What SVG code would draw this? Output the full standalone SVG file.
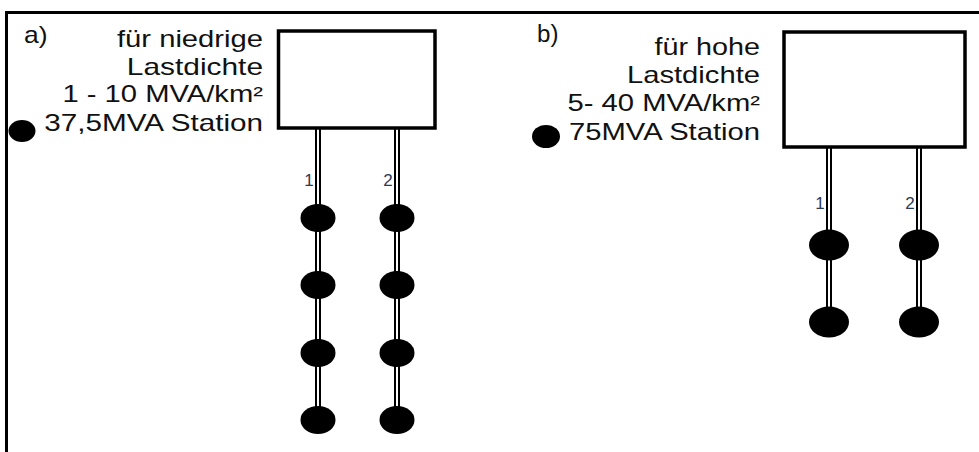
<svg xmlns="http://www.w3.org/2000/svg" width="979" height="452" viewBox="0 0 979 452">
<style>
.t{font-family:"Liberation Sans",Arial,sans-serif;font-size:23px;fill:#111}
.r{text-anchor:end}
.n{font-family:"Liberation Sans",Arial,sans-serif;font-size:17px;fill:#2b3a55;text-anchor:middle}
.box{fill:#fff;stroke:#000;stroke-width:3.5}
.wo{stroke:#000;stroke-width:6;fill:none}
.wi{stroke:#fff;stroke-width:2;fill:none}
.dot{fill:#000}
</style>
<rect width="979" height="452" fill="#fff"/>
<path d="M979 12.5 H6.5 V452" fill="none" stroke="#000" stroke-width="3"/>

<g id="legend-a">
<text class="t" transform="translate(24,43) scale(1.15,1)">a)</text>
<text class="t r" transform="translate(263,47) scale(1.27,1)">für niedrige</text>
<text class="t r" transform="translate(263,75) scale(1.3,1)">Lastdichte</text>
<text class="t r" transform="translate(263,102) scale(1.27,1)">1 - 10 MVA/km²</text>
<text class="t r" transform="translate(263,131) scale(1.29,1)">37,5MVA Station</text>
<ellipse class="dot" cx="22" cy="131" rx="13.5" ry="11"/>
</g>

<g id="legend-b">
<text class="t" transform="translate(537,42) scale(1.05,1)">b)</text>
<text class="t r" transform="translate(760,55) scale(1.25,1)">für hohe</text>
<text class="t r" transform="translate(760,83) scale(1.27,1)">Lastdichte</text>
<text class="t r" transform="translate(760,111) scale(1.27,1)">5- 40 MVA/km²</text>
<text class="t r" transform="translate(760,140) scale(1.27,1)">75MVA Station</text>
<ellipse class="dot" cx="546" cy="136.5" rx="14" ry="11.5"/>
</g>

<g id="connectors">
<path class="wo" d="M318 128 V420 M397 128 V420 M829 147 V322 M919 147 V322"/>
<path class="wi" d="M318 128 V420 M397 128 V420 M829 147 V322 M919 147 V322"/>
</g>

<g id="station-a">
<rect class="box" x="278.5" y="31" width="156.5" height="97"/>
</g>
<g id="station-b">
<rect class="box" x="784" y="32" width="181" height="115"/>
</g>

<g id="feeder-a1">
<text class="n" x="309" y="186">1</text>
<ellipse class="dot" cx="318" cy="218" rx="17.5" ry="14"/>
<ellipse class="dot" cx="318" cy="285" rx="17.5" ry="14"/>
<ellipse class="dot" cx="318" cy="353" rx="17.5" ry="14"/>
<ellipse class="dot" cx="318" cy="420" rx="17.5" ry="14"/>
</g>
<g id="feeder-a2">
<text class="n" x="388" y="186">2</text>
<ellipse class="dot" cx="397" cy="218" rx="17.5" ry="14"/>
<ellipse class="dot" cx="397" cy="285" rx="17.5" ry="14"/>
<ellipse class="dot" cx="397" cy="353" rx="17.5" ry="14"/>
<ellipse class="dot" cx="397" cy="420" rx="17.5" ry="14"/>
</g>
<g id="feeder-b1">
<text class="n" x="820" y="209">1</text>
<ellipse class="dot" cx="829" cy="245" rx="20" ry="15.5"/>
<ellipse class="dot" cx="829" cy="322" rx="20" ry="15.5"/>
</g>
<g id="feeder-b2">
<text class="n" x="910" y="209">2</text>
<ellipse class="dot" cx="919" cy="245" rx="20" ry="15.5"/>
<ellipse class="dot" cx="919" cy="322" rx="20" ry="15.5"/>
</g>
</svg>
